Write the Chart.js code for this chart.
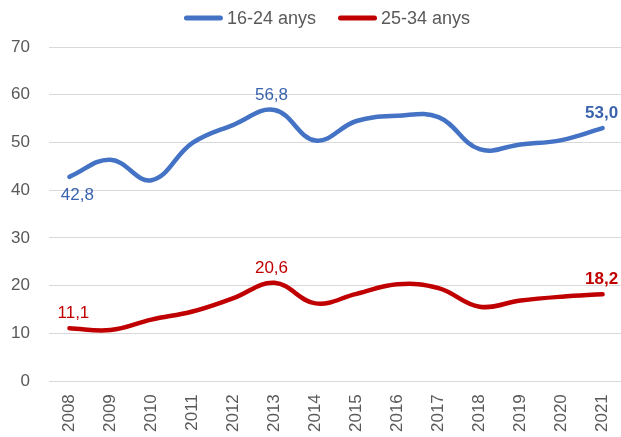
<!DOCTYPE html>
<html>
<head>
<meta charset="utf-8">
<script src="https://cdn.jsdelivr.net/npm/chart.js@4.4.1/dist/chart.umd.min.js"></script>
<style>
    html, body { margin: 0; padding: 0; background: #fff; overflow: hidden; }
    #frame { position: relative; width: 621px; height: 437px; overflow: hidden; }
    #wrap { position: absolute; left: -8px; top: 0; width: 636px; height: 437px; }
</style>
</head>
<body>
<div id="frame"><div id="wrap"><canvas id="chart"></canvas></div></div>
<script>
// chart data
const years = ['2008', '2009', '2010', '2011', '2012', '2013', '2014', '2015', '2016', '2017', '2018', '2019', '2020', '2021'];
const young = [42.8, 46.4, 42.1, 49.9, 53.7, 56.8, 50.4, 54.5, 55.6, 55.3, 48.6, 49.6, 50.5, 53.0];
const adults = [11.1, 10.7, 12.9, 14.6, 17.4, 20.6, 16.3, 18.3, 20.3, 19.5, 15.6, 16.9, 17.7, 18.2];
const seriesNames = ['16-24 anys', '25-34 anys'];
const yTicks = [0, 10, 20, 30, 40, 50, 60, 70];

// which points get a label: [index, position, bold]
const shownLabels = {
    0: [[0, 'below', false], [5, 'above', false], [13, 'above', true]],
    1: [[0, 'above', false], [5, 'above', false], [13, 'above', true]]
};
const labelColors = ['#3A63AE', '#C00000'];
const font = '"Liberation Sans", Arial, sans-serif';

const fmt = v => v.toFixed(1).replace('.', ',');

const pointLabels = {
    id: 'pointLabels',
    afterDatasetsDraw(chart) {
        const ctx = chart.ctx;
        ctx.save();
        ctx.textAlign = 'center';
        ctx.textBaseline = 'alphabetic';
        chart.data.datasets.forEach((ds, di) => {
            const meta = chart.getDatasetMeta(di);
            shownLabels[di].forEach(([i, pos, bold]) => {
                const pt = meta.data[i];
                ctx.font = (bold ? 'bold ' : '') + '17px ' + font;
                ctx.fillStyle = labelColors[di];
                let dx = 0;
                if (i === 0) dx = pos === 'below' ? 8 : 4;
                if (i === 5) dx = -3;
                if (i === 13) dx = -1;
                const y = pos === 'below' ? pt.y + 23 : pt.y - 10;
                ctx.fillText(fmt(ds.data[i]), pt.x + dx, y);
            });
        });
        ctx.restore();
    }
};

// legend drawn by hand so the gaps match Excel's
const lineLegend = {
    id: 'lineLegend',
    afterDraw(chart) {
        const ctx = chart.ctx;
        ctx.save();
        ctx.font = '18px ' + font;
        const swatch = 39, gap = 4, itemGap = 22;
        const items = chart.data.datasets.map(ds => ({ text: ds.label, color: ds.borderColor, w: ctx.measureText(ds.label).width }));
        const total = items.reduce((s, it) => s + swatch + gap + it.w, 0) + itemGap * (items.length - 1);
        let x = 335 - total / 2;
        const y = 18;
        items.forEach(it => {
            ctx.strokeStyle = it.color;
            ctx.lineWidth = 5;
            ctx.lineCap = 'round';
            ctx.beginPath();
            ctx.moveTo(x + 2.5, y);
            ctx.lineTo(x + swatch - 2.5, y);
            ctx.stroke();
            x += swatch + gap;
            ctx.fillStyle = '#595959';
            ctx.textBaseline = 'middle';
            ctx.fillText(it.text, x, y + 1);
            x += it.w + itemGap;
        });
        ctx.restore();
    }
};

new Chart(document.getElementById('chart'), {
    type: 'line',
    data: {
        labels: years,
        datasets: [{
            label: seriesNames[0],
            data: young,
            borderColor: '#4472C4',
            backgroundColor: '#4472C4',
            borderWidth: 4.5,
            tension: 0.4,
            pointRadius: 0,
            borderCapStyle: 'round'
        }, {
            label: seriesNames[1],
            data: adults,
            borderColor: '#C00000',
            backgroundColor: '#C00000',
            borderWidth: 4.5,
            tension: 0.4,
            pointRadius: 0,
            borderCapStyle: 'round'
        }]
    },
    options: {
        responsive: true,
        maintainAspectRatio: false,
        animation: false,
        layout: { padding: { left: 0, right: 0, top: 47, bottom: 0 } },
        plugins: {
            legend: { display: false },
            tooltip: { enabled: false }
        },
        scales: {
            x: {
                offset: true,
                grid: { display: false },
                border: { display: false },
                ticks: {
                    maxRotation: 90,
                    minRotation: 90,
                    color: '#595959',
                    padding: 5,
                    font: { family: font, size: 17 }
                }
            },
            y: {
                min: 0,
                max: 70,
                afterBuildTicks: axis => { axis.ticks = yTicks.map(v => ({ value: v })); },
                grid: { color: '#D9D9D9', lineWidth: 1, drawTicks: false },
                border: { display: false },
                ticks: {
                    color: '#595959',
                    padding: 19,
                    font: { family: font, size: 17 }
                }
            }
        }
    },
    plugins: [pointLabels, lineLegend]
});
</script>
</body>
</html>
